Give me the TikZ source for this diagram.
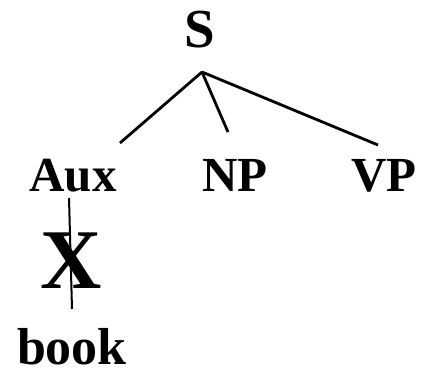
\documentclass[tikz,border=0pt]{standalone}
\usepackage{fontspec}
\setmainfont{Liberation Serif}
\usetikzlibrary{calc}
\begin{document}
\begin{tikzpicture}[x=1bp,y=-1bp,
  lab/.style={anchor=base,inner sep=0pt,font=\bfseries\fontsize{49bp}{51bp}\selectfont},
  edge/.style={line width=2.8bp,line cap=butt}]
\useasboundingbox (0,0) rectangle (424,375);
\node[lab,font=\bfseries\fontsize{55bp}{57bp}\selectfont] (S) at (200,47) {S};
\node[lab] (Aux) at (73,191) {Aux};
\node[lab] (NP) at (235,191) {NP};
\node[lab] (VP) at (384,191) {VP};
\node[lab,font=\bfseries\fontsize{85bp}{87bp}\selectfont] (X) at (71,288) {X};
\node[lab,font=\bfseries\fontsize{52bp}{54bp}\selectfont] (book) at (72,364) {book};
\draw[edge] ($(S.base)+(2,25)$) -- ($(Aux.base)+(47,-48)$);
\draw[edge] ($(S.base)+(2,25)$) -- ($(NP.base)+(-7,-59)$);
\draw[edge] ($(S.base)+(2,25)$) -- ($(VP.base)+(-6,-46)$);
\draw[line width=2bp] ($(Aux.base)+(-4,7)$) -- ($(X.base)+(1,21)$);
\end{tikzpicture}
\end{document}
